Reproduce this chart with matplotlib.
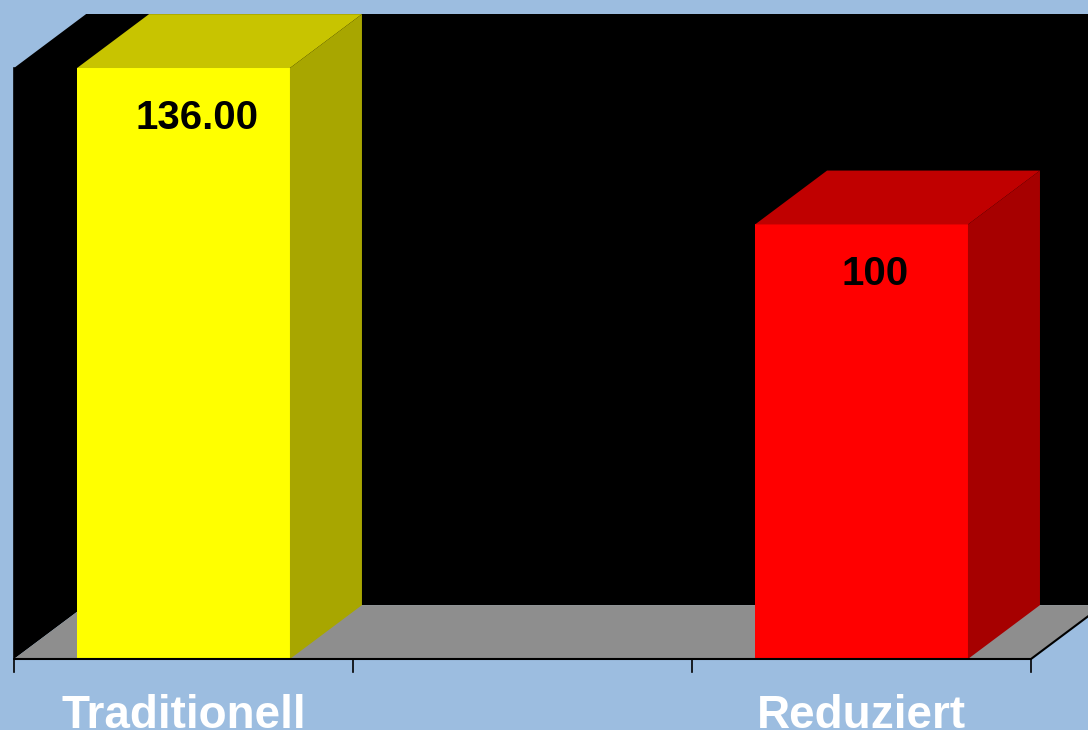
import matplotlib
matplotlib.use("Agg")
import matplotlib.pyplot as plt
from matplotlib.patches import Polygon

# chart data (middle slot is empty in the original)
categories = ["Traditionell", "", "Reduziert"]
values = [136, None, 100]
value_labels = ["136.00", "", "100"]
front_colors = ["#FFFF00", None, "#FF0000"]
top_colors = ["#C8C400", None, "#C00000"]
side_colors = ["#A8A600", None, "#A60000"]

YMAX = 136
DX, DY = 0.2124, 12.4      # depth offset in data units
HALF = 0.314               # half bar width
BG = "#9CBDE0"

fig = plt.figure(figsize=(10.88, 7.30), dpi=100)
fig.patch.set_facecolor(BG)
ax = fig.add_axes([0, 0, 1, 1])
ax.set_facecolor(BG)
ax.set_xlim(-0.5413, 2.6681)
ax.set_ylim(-16.34, 151.65)
ax.axis("off")

x0, x1 = -0.5, len(categories) - 0.5

# back wall, left wall, floor
ax.add_patch(Polygon([(x0 + DX, DY), (x1 + DX, DY), (x1 + DX, YMAX + DY),
                      (x0 + DX, YMAX + DY)], closed=True, fc="black", ec="none"))
ax.add_patch(Polygon([(x0, 0), (x0 + DX, DY), (x0 + DX, YMAX + DY), (x0, YMAX)],
                     closed=True, fc="black", ec="none"))
ax.add_patch(Polygon([(x0, 0), (x1, 0), (x1 + DX, DY), (x0 + DX, DY)],
                     closed=True, fc="#8E8E8E", ec="none"))

# bars
for i, v in enumerate(values):
    if v is None:
        continue
    l, r = i - HALF, i + HALF
    ax.add_patch(Polygon([(l, 0), (r, 0), (r, v), (l, v)], closed=True,
                         fc=front_colors[i], ec="none"))
    ax.add_patch(Polygon([(l, v), (r, v), (r + DX, v + DY), (l + DX, v + DY)],
                         closed=True, fc=top_colors[i], ec="none"))
    ax.add_patch(Polygon([(r, 0), (r + DX, DY), (r + DX, v + DY), (r, v)],
                         closed=True, fc=side_colors[i], ec="none"))
    ax.text(i + 0.04, v - 14, value_labels[i], ha="center", va="baseline",
            fontsize=29, fontweight="bold", family="Liberation Sans", color="black")

# axis line, depth edge and tick marks
ax.plot([x0, x1, x1 + DX], [0, 0, DY], color="black", lw=1.5, solid_capstyle="butt")
ax.plot([x0, x0], [0, YMAX], color="black", lw=1.2)
for t in range(len(categories) + 1):
    ax.plot([t - 0.5, t - 0.5], [0, -3.0], color="black", lw=1.2)

for i, c in enumerate(categories):
    ax.text(i, -15.9, c, ha="center", va="baseline", fontsize=33,
            fontweight="bold", family="Liberation Sans", color="white")

fig.savefig("out.png", dpi=100, facecolor=BG)
